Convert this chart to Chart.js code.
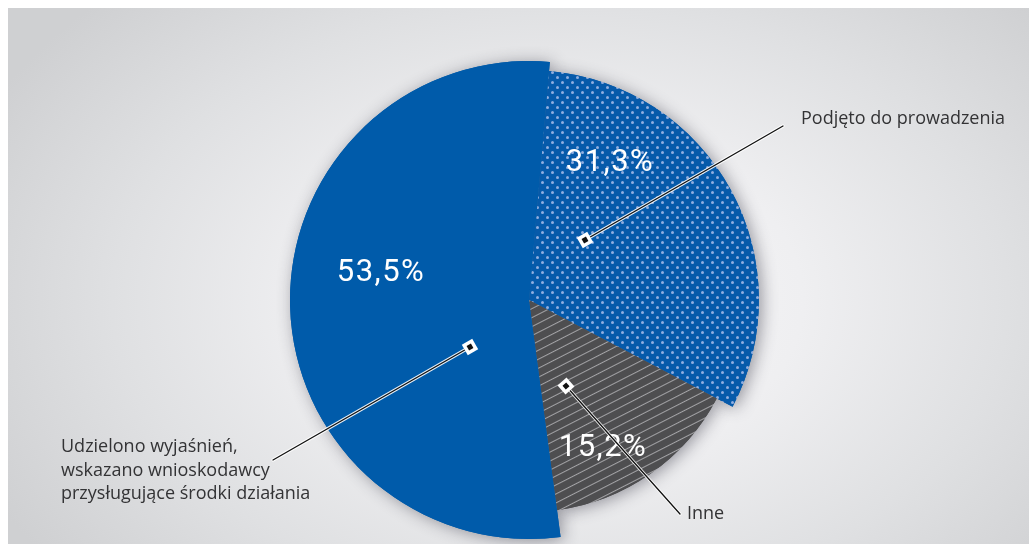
<!DOCTYPE html>
<html>
<head>
<meta charset="utf-8">
<script src="https://cdn.jsdelivr.net/npm/chart.js@4.4.1/dist/chart.umd.min.js"></script>
<style>
  html, body { margin: 0; padding: 0; background: #fff; }
  #wrap { position: relative; width: 1029px; height: 544px; overflow: hidden; }
  #panel {
    position: absolute; left: 8px; top: 8px; right: 0; bottom: 0;
    background: radial-gradient(ellipse 640px 430px at 552px 292px, #f8f8f9 0%, #efeff1 38%, #dfe0e2 70%, #cfd0d2 100%);
  }
  #box { position: absolute; left: 0; top: 0; width: 1029px; height: 544px; }
</style>
</head>
<body>
<div id="wrap">
  <div id="panel"></div>
  <div id="box"><canvas id="pie"></canvas></div>
</div>
<script>
// data
const categories = ['Podjęto do prowadzenia', 'Inne', 'Udzielono wyjaśnień, wskazano wnioskodawcy przysługujące środki działania'];
const labelLines = [
  ['Podjęto do prowadzenia'],
  ['Inne'],
  ['Udzielono wyjaśnień,', 'wskazano wnioskodawcy', 'przysługujące środki działania']
];
const shares = [31.3, 15.2, 53.5];

// layout (offsets from the pie centre, px)
const radiusScale = [0.962, 0.887, 1];
const pctPos = [[81, -137], [74, 148], [-148, -27]];
const markerPos = [[56, -60], [37, 86], [-59, 47]];
const leaderEnd = [[254, -174], [151, 214], [-256, 160]];
const textPos = [[272, -181], [158, 214], [-468, 147]];

function dotPattern() {
  const c = document.createElement('canvas');
  c.width = 10; c.height = 10;
  const g = c.getContext('2d');
  g.fillStyle = '#065aaa';
  g.fillRect(0, 0, 10, 10);
  g.fillStyle = '#90aee0';
  [[2.5, 2.5], [7.5, 7.5]].forEach(([x, y]) => {
    g.beginPath(); g.arc(x, y, 1.5, 0, Math.PI * 2); g.fill();
  });
  return g.createPattern(c, 'repeat');
}

function linePattern() {
  const c = document.createElement('canvas');
  c.width = 16; c.height = 8;
  const g = c.getContext('2d');
  g.fillStyle = '#4e4e50';
  g.fillRect(0, 0, 16, 8);
  g.strokeStyle = 'rgba(185,185,188,0.8)';
  g.lineWidth = 1;
  g.beginPath(); g.moveTo(0, 4.5); g.lineTo(16, 4.5); g.stroke();
  const p = g.createPattern(c, 'repeat');
  p.setTransform(new DOMMatrix().rotate(-27));
  return p;
}

function drawMarker(ctx, x, y, ang) {
  ctx.save();
  ctx.translate(x, y);
  ctx.rotate(ang);
  ctx.fillStyle = '#fff';
  ctx.fillRect(-6, -6, 12, 12);
  ctx.fillStyle = '#111';
  ctx.fillRect(-2.5, -2.5, 5, 5);
  ctx.restore();
}

const decor = {
  id: 'decor',
  afterDatasetUpdate(chart, args) {
    args.meta.data.forEach((arc, i) => { arc.outerRadius = arc.outerRadius * radiusScale[i]; });
  },
  beforeDatasetDraw(chart, args) {
    const ctx = chart.ctx;
    ctx.save();
    ctx.shadowColor = 'rgba(40,40,55,0.45)';
    ctx.shadowBlur = 16;
    ctx.shadowOffsetX = 3;
    ctx.shadowOffsetY = 2;
    args.meta.data.forEach(arc => arc.draw(ctx));
    ctx.restore();
  },
  afterDatasetsDraw(chart) {
    const ctx = chart.ctx;
    const arcs = chart.getDatasetMeta(0).data;
    const cx = arcs[0].x, cy = arcs[0].y;
    ctx.save();
    // percentages
    ctx.fillStyle = '#fff';
    ctx.font = '400 31px Roboto';
    ctx.letterSpacing = '1.5px';
    ctx.textAlign = 'center';
    ctx.textBaseline = 'middle';
    shares.forEach((v, i) => {
      ctx.fillText(v.toFixed(1).replace('.', ',') + '%', cx + pctPos[i][0], cy + pctPos[i][1]);
    });
    ctx.letterSpacing = '0px';
    // leaders
    shares.forEach((v, i) => {
      const x0 = cx + markerPos[i][0], y0 = cy + markerPos[i][1];
      const x1 = cx + leaderEnd[i][0], y1 = cy + leaderEnd[i][1];
      ctx.lineCap = 'round';
      ctx.strokeStyle = 'rgba(255,255,255,0.9)';
      ctx.lineWidth = 3.2;
      ctx.beginPath(); ctx.moveTo(x0, y0); ctx.lineTo(x1, y1); ctx.stroke();
      ctx.strokeStyle = '#111';
      ctx.lineWidth = 1.3;
      ctx.beginPath(); ctx.moveTo(x0, y0); ctx.lineTo(x1, y1); ctx.stroke();
      drawMarker(ctx, x0, y0, Math.atan2(y1 - y0, x1 - x0));
    });
    // category labels
    ctx.fillStyle = '#333335';
    ctx.font = '18px "Open Sans"';
    ctx.textAlign = 'left';
    ctx.textBaseline = 'middle';
    labelLines.forEach((lines, i) => {
      lines.forEach((t, k) => {
        ctx.fillText(t, cx + textPos[i][0], cy + textPos[i][1] + k * 23.5);
      });
    });
    ctx.restore();
  }
};

new Chart(document.getElementById('pie'), {
  type: 'pie',
  data: {
    labels: categories,
    datasets: [{
      data: shares,
      backgroundColor: [dotPattern(), linePattern(), '#005baa'],
      borderWidth: 0
    }]
  },
  options: {
    responsive: true,
    maintainAspectRatio: false,
    animation: false,
    events: [],
    rotation: 5,
    radius: 239,
    layout: { padding: { left: 29, right: 0, top: 61, bottom: 5 } },
    plugins: {
      legend: { display: false },
      tooltip: { enabled: false }
    }
  },
  plugins: [decor]
});
</script>
</body>
</html>
